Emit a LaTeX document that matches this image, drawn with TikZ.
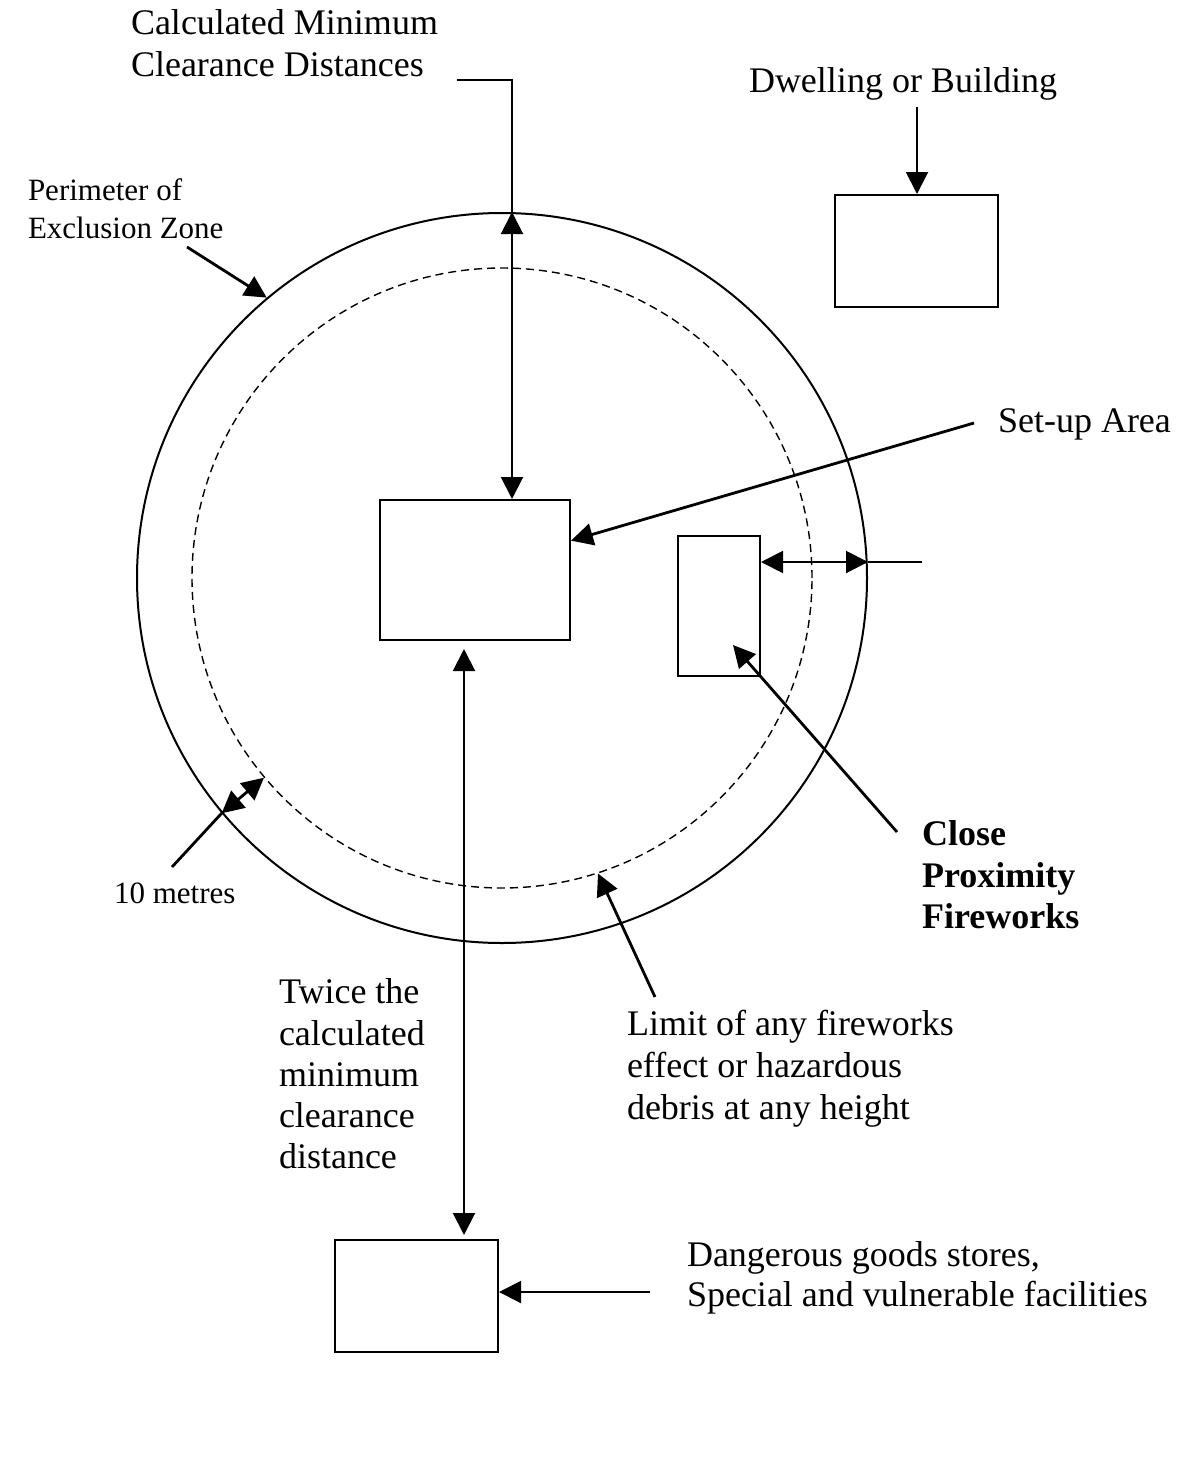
\documentclass[tikz,border=0pt]{standalone}
\usepackage{fontspec}
\setmainfont{Liberation Serif}
\usetikzlibrary{arrows.meta,calc}
\begin{document}
\begin{tikzpicture}[x=0.5pt,y=-0.5pt,
  line width=1pt,
  Tri/.tip={Triangle[length=11pt,width=11pt]},
  arr/.style={-Tri},
  darr/.style={Tri-Tri},
  heavy/.style={line width=1.4pt},
  box/.style={draw, rectangle, inner sep=0pt, line width=1pt},
  big/.style={inner sep=0pt, anchor=base west, font=\fontsize{18}{20}\selectfont},
  small/.style={inner sep=0pt, anchor=base west, font=\fontsize{15.5}{18}\selectfont},
  bigbold/.style={big, font=\fontsize{18}{20}\selectfont\bfseries},
]
\useasboundingbox (0,0) rectangle (1202,1477);

% zones
\node[draw, circle, minimum size=365pt, inner sep=0pt, line width=1pt] (outer) at (502,578) {};
\node[draw, circle, minimum size=310pt, inner sep=0pt, line width=0.7pt, dash pattern=on 4pt off 2.5pt] (inner) at (502,578) {};

% boxes
\node[box, minimum width=95pt, minimum height=70pt] (setup) at (475,570) {};
\node[box, minimum width=41pt, minimum height=70pt] (close) at (719,606) {};
\node[box, minimum width=81.5pt, minimum height=56pt] (dwell) at (916.5,251) {};
\node[box, minimum width=81.5pt, minimum height=56pt] (danger) at (416.5,1296) {};

% labels
\node[big] (calc1) at (130,35) {Calculated Minimum};
\node[big] (calc2) at (130,77) {Clearance Distances};
\node[big] (dwl) at (748,93) {Dwelling or Building};
\node[small] (per1) at (27,200) {Perimeter of};
\node[small] (per2) at (27,238) {Exclusion Zone};
\node[big] (sua) at (997,432) {Set-up Area};
\node[bigbold] (cp1) at (921,845) {Close};
\node[bigbold] (cp2) at (921,887) {Proximity};
\node[bigbold] (cp3) at (921,928) {Fireworks};
\node[small] (tenm) at (113,903) {10 metres};
\node[big] (lim1) at (626,1035) {Limit of any fireworks};
\node[big] (lim2) at (626,1077) {effect or hazardous};
\node[big] (lim3) at (626,1119) {debris at any height};
\node[big] (tw1) at (278,1003) {Twice the};
\node[big] (tw2) at (278,1045) {calculated};
\node[big] (tw3) at (278,1086) {minimum};
\node[big] (tw4) at (278,1127) {clearance};
\node[big] (tw5) at (278,1168) {distance};
\node[big] (dg1) at (686,1266) {Dangerous goods stores,};
\node[big] (dg2) at (686,1306) {Special and vulnerable facilities};

% connector end points
\coordinate (cmA) at (457,80);
\coordinate (cmB) at (512,80);
\coordinate (dwA) at (917,107);
\coordinate (perA) at (187,247);
\coordinate (suA) at (974,423);
\coordinate (cpA) at (922,562);
\coordinate (cfA) at (897,832);
\coordinate (tmA) at (172,867);
\coordinate (liA) at (655,997);
\coordinate (twx) at (464,0);
\coordinate (dgA) at (650,1292);

% calculated minimum clearance distances
\draw (cmA) -- (cmB) -- (cmB |- outer.north);
\draw[darr] (cmB |- outer.north) -- (cmB |- setup.north);
% dwelling
\draw[arr] (dwA) -- (dwA |- dwell.north);
% perimeter
\draw[arr, heavy] (perA) -- (outer.130);
% set-up area
\draw[arr, heavy] (suA) -- (setup.17);
% close proximity clearance
\draw (cpA) -- (cpA -| outer.east);
\draw[darr] (cpA -| close.east) -- (cpA -| outer.east);
% close proximity fireworks
\draw[arr, heavy] (cfA) -- ($(close.center)+(14,39)$);
% 10 metres
\draw[heavy] (tmA) -- (outer.220);
\draw[darr, heavy] (outer.220) -- (inner.220);
% limit
\draw[arr, heavy] (liA) -- (inner.-72);
% twice the distance
\draw[darr] ($(twx |- setup.south)+(0,8)$) -- ($(twx |- danger.north)+(0,-4)$);
% dangerous goods
\draw[arr] (dgA) -- (dgA -| danger.east);
\end{tikzpicture}
\end{document}
